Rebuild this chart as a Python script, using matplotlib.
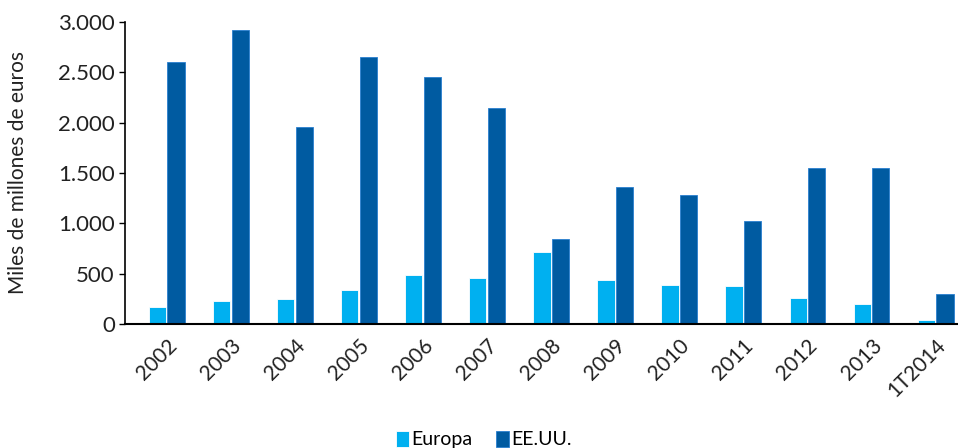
import matplotlib
matplotlib.use("Agg")
import matplotlib.pyplot as plt
import numpy as np
from matplotlib.ticker import FuncFormatter

categories = ["2002", "2003", "2004", "2005", "2006", "2007", "2008",
              "2009", "2010", "2011", "2012", "2013", "1T2014"]
europa = [165, 230, 250, 340, 490, 460, 715, 440, 390, 375, 260, 200, 35]
eeuu = [2600, 2920, 1955, 2650, 2455, 2150, 840, 1360, 1280, 1020, 1550, 1550, 295]
yticks = [0, 500, 1000, 1500, 2000, 2500, 3000]

plt.rcParams['font.family'] = ['Lato', 'DejaVu Sans']

fig = plt.figure(figsize=(9.58, 4.48), dpi=100)
ax = fig.add_axes([0.130, 0.277, 0.870, 0.674])

x = np.arange(len(categories))
w = 0.27
c_eu = "#00B0F0"
c_us = "#005BA1"
ax.bar(x - w/2 - 0.01, europa, width=w, color=c_eu, edgecolor="white", linewidth=0.6, label="Europa")
ax.bar(x + w/2 + 0.01, eeuu, width=w, color=c_us, edgecolor="#2a7fd0", linewidth=0.6, label="EE.UU.")

ax.set_xlim(-0.66, 12.35)
ax.set_ylim(0, 3000)
ax.set_yticks(yticks)
ax.yaxis.set_major_formatter(FuncFormatter(lambda v, p: f"{int(v):,}".replace(",", ".")))
ax.set_xticks(x)
ax.set_xticklabels(categories, rotation=45, ha="right", rotation_mode="anchor", fontsize=15, color="#222222")
ax.tick_params(axis="x", length=0, pad=8)
ax.tick_params(axis="y", labelsize=16, length=4, width=1, color="black", labelcolor="#222222", pad=3)
ax.set_ylabel("Miles de millones de euros", fontsize=15, color="#222222", labelpad=22)

for s in ["top", "right"]:
    ax.spines[s].set_visible(False)
ax.spines["left"].set_linewidth(1.2)
ax.spines["bottom"].set_linewidth(1.5)

leg = fig.legend(loc="lower center", bbox_to_anchor=(0.505, -0.04), ncol=2, frameon=False,
                 fontsize=14, handlelength=0.7, handleheight=0.9, handletextpad=0.1,
                 columnspacing=1.2)

fig.savefig("out.png", dpi=100)
